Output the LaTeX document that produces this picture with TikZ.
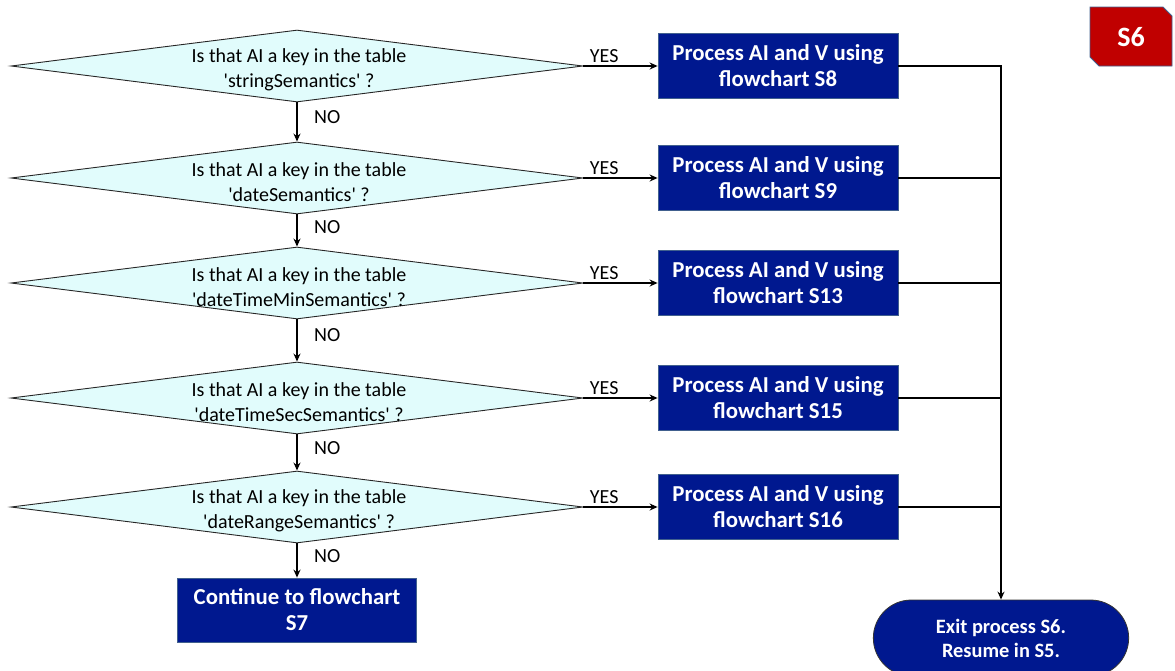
\documentclass[tikz,border=0pt]{standalone}
\usepackage{fontspec}
\setmainfont{Carlito}
\usetikzlibrary{shapes.geometric,shapes.misc,arrows.meta}
\definecolor{navy}{HTML}{00188F}
\definecolor{navyedge}{HTML}{41608E}
\definecolor{decfill}{HTML}{E1FCFC}
\definecolor{badgered}{HTML}{C00000}
\newcommand{\sq}{\textquotesingle}
\tikzset{
  decision/.style={diamond, draw=black!85, line width=0.9pt, fill=decfill,
    minimum width=572pt, minimum height=72pt, inner sep=0pt},
  dectext/.style={align=center, font=\fontsize{20pt}{25pt}\selectfont},
  procbox/.style={rectangle, draw=navyedge, line width=0.8pt, fill=navy, text=white,
    minimum width=240pt, minimum height=65pt, align=center,
    font=\bfseries\fontsize{22.8pt}{26pt}\selectfont},
  exitbox/.style={rounded rectangle, draw=black!80, line width=0.8pt, fill=navy, text=white,
    minimum width=262pt, minimum height=76pt, align=center,
    font=\bfseries\fontsize{20.4pt}{24pt}\selectfont},
  flow/.style={line width=2.2pt, -{Stealth[length=8pt,width=7pt]}},
  busline/.style={line width=2.2pt},
  yeslbl/.style={anchor=south, pos=0.28, inner sep=2pt, font=\fontsize{20pt}{24pt}\selectfont},
  nolbl/.style={anchor=west, pos=0.38, inner sep=0pt, xshift=16pt, font=\fontsize{20pt}{24pt}\selectfont},
}
\begin{document}
\begin{tikzpicture}[x=1pt,y=-1pt]
\useasboundingbox (0,0) rectangle (1175,670);

% decisions
\node[decision] (q1) at (297,66) {};
\node[dectext] (q1t) at (299,70) {Is that AI a key in the table\\\sq stringSemantics\sq\ ?};
\node[decision] (q2) at (297,178) {};
\node[dectext] (q2t) at (299,182) {Is that AI a key in the table\\\sq dateSemantics\sq\ ?};
\node[decision] (q3) at (297,283) {};
\node[dectext] (q3t) at (299,287) {Is that AI a key in the table\\\sq dateTimeMinSemantics\sq\ ?};
\node[decision] (q4) at (297,398) {};
\node[dectext] (q4t) at (299,402) {Is that AI a key in the table\\\sq dateTimeSecSemantics\sq\ ?};
\node[decision] (q5) at (297,507) {};
\node[dectext] (q5t) at (299,511) {Is that AI a key in the table\\\sq dateRangeSemantics\sq\ ?};

% process boxes
\node[procbox] (p1) at (778,66) {Process AI and V using\\flowchart S8};
\node[procbox] (p2) at (778,178) {Process AI and V using\\flowchart S9};
\node[procbox] (p3) at (778,283) {Process AI and V using\\flowchart S13};
\node[procbox] (p4) at (778,398) {Process AI and V using\\flowchart S15};
\node[procbox] (p5) at (778,507) {Process AI and V using\\flowchart S16};

\node[procbox, minimum width=239pt, minimum height=64pt] (cont) at (297,610) {Continue to flowchart\\S7};
\node[exitbox] (exit) at (1001,638) {Exit process S6.\\Resume in S5.};

% badge
\fill[badgered] (1090,7) -- (1163,7) -- (1172,16) -- (1172,66) -- (1099,66) -- (1090,57) -- cycle;
\draw[navyedge, line width=0.8pt] (1090,7) -- (1163,7) -- (1172,16) -- (1172,66) -- (1099,66) -- (1090,57) -- cycle;
\node[text=white, font=\bfseries\fontsize{28pt}{30pt}\selectfont] (badge) at (1131,37) {S6};

% yes branches
\draw[flow] (q1.east) -- node[yeslbl]{YES} (p1.west);
\draw[flow] (q2.east) -- node[yeslbl]{YES} (p2.west);
\draw[flow] (q3.east) -- node[yeslbl]{YES} (p3.west);
\draw[flow] (q4.east) -- node[yeslbl]{YES} (p4.west);
\draw[flow] (q5.east) -- node[yeslbl]{YES} (p5.west);

% no branches
\draw[flow] (q1.south) -- node[nolbl]{NO} (q2.north);
\draw[flow] (q2.south) -- node[nolbl]{NO} (q3.north);
\draw[flow] (q3.south) -- node[nolbl]{NO} (q4.north);
\draw[flow] (q4.south) -- node[nolbl]{NO} (q5.north);
\draw[flow] (q5.south) -- node[nolbl]{NO} (cont.north);

% collector line to the exit
\draw[flow] (p1.east) -| (exit.north);
\draw[busline] (p2.east) -- (p2.east -| exit.north);
\draw[busline] (p3.east) -- (p3.east -| exit.north);
\draw[busline] (p4.east) -- (p4.east -| exit.north);
\draw[busline] (p5.east) -- (p5.east -| exit.north);
\end{tikzpicture}
\end{document}
